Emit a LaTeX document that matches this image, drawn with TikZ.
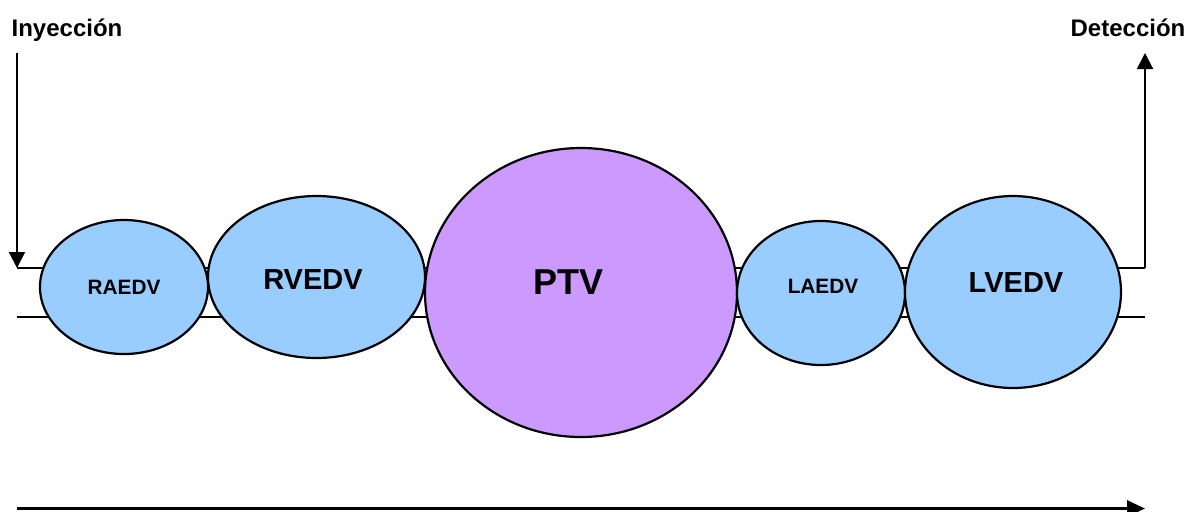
\documentclass[tikz,border=0pt]{standalone}
\usepackage{fontspec}
\setmainfont{Liberation Sans}
\usetikzlibrary{shapes.geometric,arrows.meta}
\definecolor{azul}{HTML}{99CCFF}
\definecolor{lila}{HTML}{CC99FF}
\begin{document}
\begin{tikzpicture}[x=0.5pt, y=-0.5pt, line width=1pt,
    camara/.style = {draw, ellipse, fill=azul, inner sep=0pt, line width=1.1pt},
    chico/.style = {font=\bfseries\fontsize{10.4}{12}\selectfont},
    grande/.style = {font=\bfseries\fontsize{14.5}{17}\selectfont},
    titulo/.style = {font=\bfseries\fontsize{12}{14}\selectfont, anchor=base},
    flecha/.style = {-{Triangle[length=8pt, width=8pt]}}]
    \useasboundingbox (0,0) rectangle (1188,511);
    % Puntos de entrada y salida
    \coordinate (iny0) at (17,53);
    \coordinate (iny1) at (17,268);
    \coordinate (det0) at (1145,268);
    \coordinate (det1) at (1145,53);
    \coordinate (baja0) at (17,317);
    \coordinate (baja1) at (1145,317);
    \coordinate (t0) at (17,508.5);
    \coordinate (t1) at (1145,508.5);

    % Tubo
    \draw (iny1) -- (det0);
    \draw (baja0) -- (baja1);

    % Camaras
    \node[camara, minimum width=84pt, minimum height=67pt,
          label={[chico]center:RAEDV}] (ra) at (124,287) {};
    \node[camara, minimum width=108.5pt, minimum height=81pt,
          label={[grande, xshift=-1.75pt, yshift=-1.5pt]center:RVEDV}] (rv) at (316.5,277) {};
    \node[camara, fill=lila, minimum width=156pt, minimum height=144.5pt,
          label={[font=\bfseries\fontsize{18}{21}\selectfont, xshift=-6.5pt, yshift=5.25pt]center:PTV}] (ptv) at (581,292.5) {};
    \node[camara, minimum width=84pt, minimum height=72pt,
          label={[chico, xshift=1pt, yshift=3.5pt]center:LAEDV}] (la) at (821,293) {};
    \node[camara, minimum width=108pt, minimum height=96pt,
          label={[grande, xshift=1.5pt, yshift=4.5pt]center:LVEDV}] (lv) at (1013,292) {};

    % Flechas
    \draw[flecha] (iny0) -- (iny1);
    \draw[flecha] (det0) -- (det1);
    \draw[-{Triangle[length=9pt, width=8pt]}, line width=1.5pt] (t0) -- (t1);

    \node[titulo] (iny) at (67,36) {Inyección};
    \node[titulo] (det) at (1128,36) {Detección};
\end{tikzpicture}
\end{document}
